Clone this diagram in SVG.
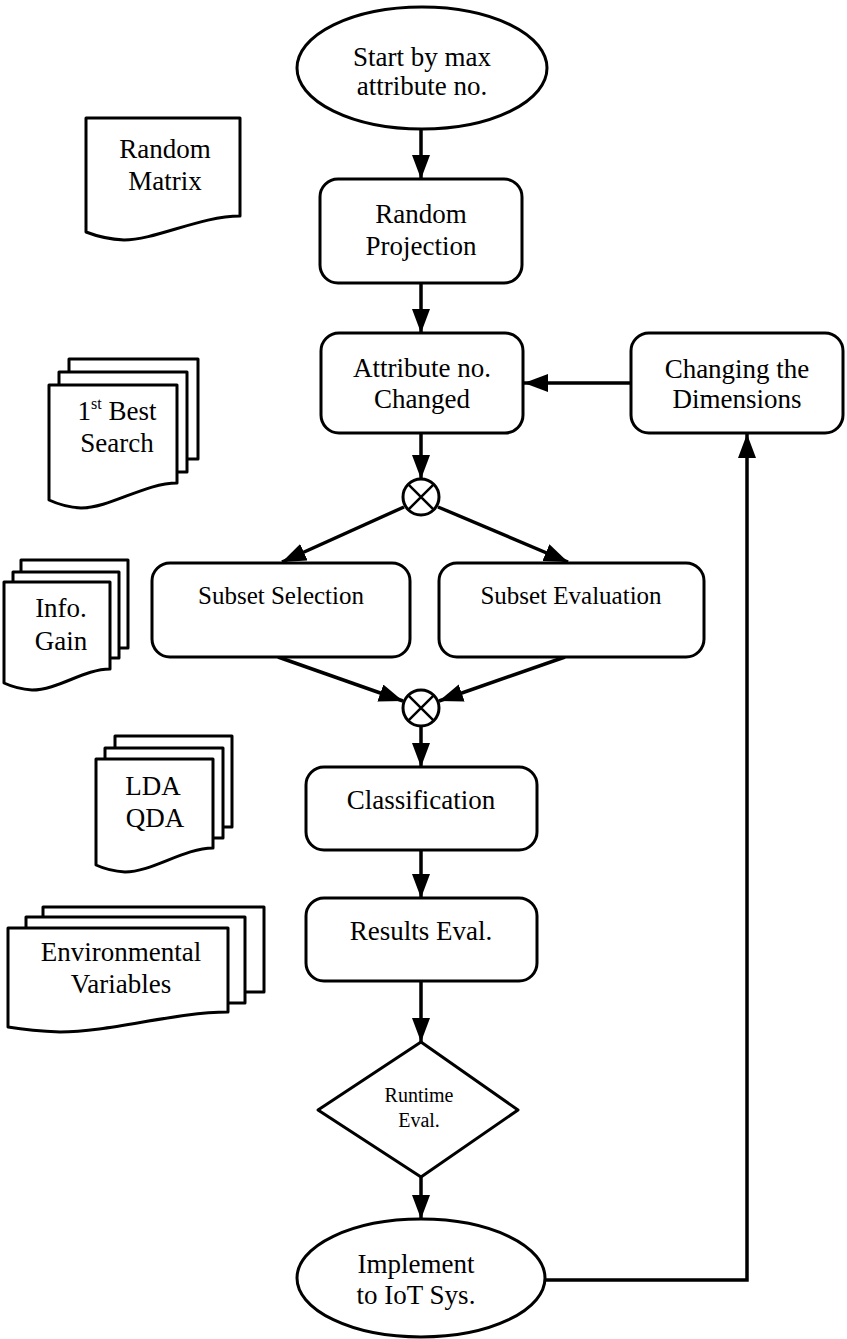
<svg xmlns="http://www.w3.org/2000/svg" width="847" height="1339" viewBox="0 0 847 1339">
<style>
.s{fill:#fff;stroke:#000;stroke-width:3;stroke-linejoin:round}
.t{font-family:"Liberation Serif","Times New Roman",serif;font-size:27px;fill:#000;text-anchor:middle}
.t2{font-size:25px}
.t3{font-size:20px}
.c{fill:none;stroke:#000;stroke-width:3.5}
</style>
<defs>
<marker id="ah" markerUnits="userSpaceOnUse" markerWidth="26" markerHeight="20" refX="24" refY="9" orient="auto">
<path d="M0,0 L24,9 L0,18 z" fill="#000"/>
</marker>
</defs>
<rect width="847" height="1339" fill="#fff"/>

<g id="connectors">
<line class="c" x1="421" y1="130" x2="421" y2="179" marker-end="url(#ah)"/>
<line class="c" x1="421" y1="283" x2="421" y2="333" marker-end="url(#ah)"/>
<line class="c" x1="631" y1="383" x2="524" y2="383" marker-end="url(#ah)"/>
<line class="c" x1="421" y1="433" x2="421" y2="479" marker-end="url(#ah)"/>
<line class="c" x1="404" y1="507" x2="282" y2="562" marker-end="url(#ah)"/>
<line class="c" x1="438" y1="507" x2="568" y2="562" marker-end="url(#ah)"/>
<line class="c" x1="278" y1="657" x2="403" y2="701" marker-end="url(#ah)"/>
<line class="c" x1="565" y1="657" x2="439" y2="701" marker-end="url(#ah)"/>
<line class="c" x1="421" y1="727" x2="421" y2="767" marker-end="url(#ah)"/>
<line class="c" x1="421" y1="850" x2="421" y2="898" marker-end="url(#ah)"/>
<line class="c" x1="421" y1="981" x2="421" y2="1042" marker-end="url(#ah)"/>
<line class="c" x1="421" y1="1177" x2="421" y2="1219" marker-end="url(#ah)"/>
<polyline class="c" points="544,1280 747,1280 747,434" marker-end="url(#ah)"/>
</g>

<g id="start">
<ellipse class="s" cx="422" cy="68" rx="125" ry="61"/>
<text class="t" x="422" y="66">Start by max</text>
<text class="t" x="422" y="95">attribute no.</text>
</g>

<g id="random-projection">
<rect class="s" x="320" y="179" width="202" height="104" rx="18"/>
<text class="t" x="421" y="223">Random</text>
<text class="t" x="421" y="255">Projection</text>
</g>

<g id="attribute-changed">
<rect class="s" x="321" y="333" width="202" height="100" rx="18"/>
<text class="t" x="422" y="377">Attribute no.</text>
<text class="t" x="422" y="408">Changed</text>
</g>

<g id="changing-dimensions">
<rect class="s" x="631" y="333" width="212" height="100" rx="18"/>
<text class="t" x="737" y="378">Changing the</text>
<text class="t" x="737" y="408">Dimensions</text>
</g>

<g id="junction-1">
<circle class="s" cx="421" cy="497" r="18"/>
<path d="M408.3,484.3 L433.7,509.7 M433.7,484.3 L408.3,509.7" stroke="#000" stroke-width="2.5"/>
</g>

<g id="subset-selection">
<rect class="s" x="152" y="563" width="258" height="94" rx="18"/>
<text class="t t2" x="281" y="604">Subset Selection</text>
</g>

<g id="subset-evaluation">
<rect class="s" x="439" y="563" width="265" height="94" rx="18"/>
<text class="t t2" x="571" y="604">Subset Evaluation</text>
</g>

<g id="junction-2">
<circle class="s" cx="421" cy="708" r="18"/>
<path d="M408.3,695.3 L433.7,720.7 M433.7,695.3 L408.3,720.7" stroke="#000" stroke-width="2.5"/>
</g>

<g id="classification">
<rect class="s" x="306" y="767" width="231" height="83" rx="18"/>
<text class="t" x="421" y="809">Classification</text>
</g>

<g id="results-eval">
<rect class="s" x="306" y="898" width="231" height="83" rx="18"/>
<text class="t" x="421" y="940">Results Eval.</text>
</g>

<g id="runtime-eval">
<polygon class="s" points="421,1042 518,1110 421,1177 318,1110"/>
<text class="t t3" x="419" y="1102">Runtime</text>
<text class="t t3" x="419" y="1127">Eval.</text>
</g>

<g id="implement">
<ellipse class="s" cx="421" cy="1278" rx="124" ry="59"/>
<text class="t" x="416" y="1273">Implement</text>
<text class="t" x="416" y="1304">to IoT Sys.</text>
</g>

<g id="random-matrix">
<path class="s" d="M86,118 H240 V216 C201,216 155,240 124,240 Q104,239 86,232 Z"/>
<text class="t" x="165" y="158">Random</text>
<text class="t" x="165" y="190">Matrix</text>
</g>

<g id="best-search">
<rect class="s" x="69" y="359" width="129" height="100"/>
<rect class="s" x="59" y="372" width="128" height="100"/>
<path class="s" d="M49,385 H177 V483 C145,483 110,508 81,508 Q64,507 49,500 Z"/>
<text class="t" x="117" y="420">1<tspan font-size="16" dy="-11">st</tspan><tspan dy="11"> Best</tspan></text>
<text class="t" x="117" y="452">Search</text>
</g>

<g id="info-gain">
<rect class="s" x="21" y="560" width="107" height="88"/>
<rect class="s" x="13" y="572" width="106" height="86"/>
<path class="s" d="M4,582 H110 V669 C84,669 58,690 32,690 Q17,689 4,683 Z"/>
<text class="t" x="61" y="617">Info.</text>
<text class="t" x="61" y="650">Gain</text>
</g>

<g id="lda-qda">
<rect class="s" x="115" y="736" width="117" height="91"/>
<rect class="s" x="105" y="748" width="118" height="90"/>
<path class="s" d="M96,759 H213 V848 C184,848 152,872 125,872 Q109,871 96,865 Z"/>
<text class="t" x="153" y="795">LDA</text>
<text class="t" x="155" y="827">QDA</text>
</g>

<g id="env-variables">
<rect class="s" x="43" y="907" width="221" height="85"/>
<rect class="s" x="26" y="917" width="219" height="86"/>
<path class="s" d="M8,928 H228 V1012 C175,1012 110,1032 60,1032 Q32,1031 8,1027 Z"/>
<text class="t" x="121" y="961">Environmental</text>
<text class="t" x="121" y="993">Variables</text>
</g>
</svg>
